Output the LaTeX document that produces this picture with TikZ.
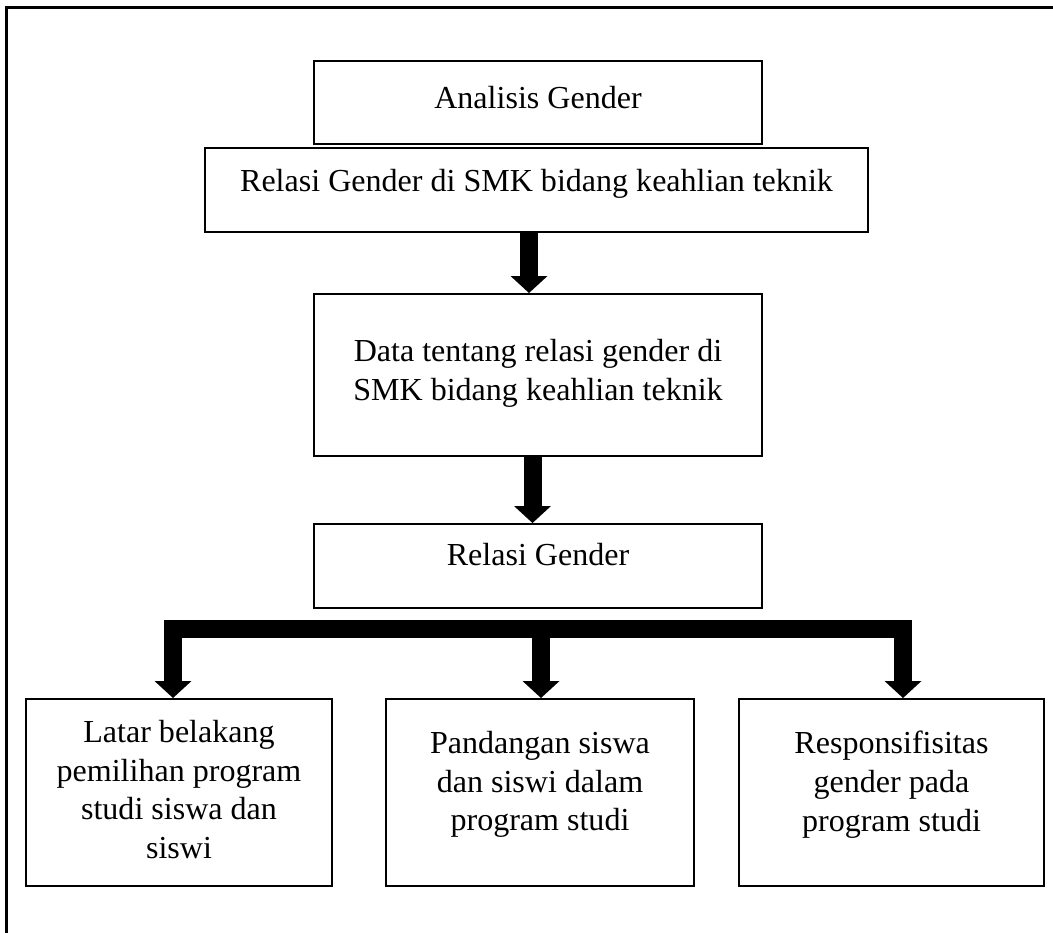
\documentclass[tikz,border=0pt]{standalone}
\usepackage{fontspec}
\setmainfont{Liberation Serif}
\usetikzlibrary{arrows.meta,calc}
\def\px{0.02cm}
\tikzset{
  ujung/.tip={Triangle[width=0.74cm,length=0.34cm,line width=0pt]},
  blk/.style={line width=0.36cm, -ujung},
  kotak/.style n args={2}{draw, line width=0.04cm, inner sep=0pt,
    minimum width=#1*\px, minimum height=#2*\px},
  teks/.style={anchor=north, inner sep=0pt, align=center,
    font=\fontsize{18.24pt}{22pt}\selectfont}
}
\begin{document}
\begin{tikzpicture}[x=0.02cm,y=-0.02cm]
        \useasboundingbox (0,0) rectangle (1053,932);
        % frame
        \draw[line width=0.05cm] (6.5,980) |- (1100,7.5);
        % boxes
        \node[kotak={448}{83}] (b1) at (538,102.5) {};
        \node[kotak={663}{84}] (b2) at (536.5,190) {};
        \node[kotak={448}{162}] (b3) at (538,375) {};
        \node[kotak={448}{84}] (b4) at (538,566) {};
        \node[kotak={306}{187}] (bA) at (179,792.5) {};
        \node[kotak={308}{187}] (bB) at (540,792.5) {};
        \node[kotak={305}{187}] (bC) at (891.5,792.5) {};
        % texts
        \node[teks] (t1) at (538,86) {Analisis Gender};
        \node[teks] (t2) at (536.5,169) {Relasi Gender di SMK bidang keahlian teknik};
        \node[teks] (t3) at (538,339) {Data tentang relasi gender di\\SMK bidang keahlian teknik};
        \node[teks] (t4) at (538,543) {Relasi Gender};
        \node[teks] (tA) at (179,720) {Latar belakang\\pemilihan program\\studi siswa dan\\siswi};
        \node[teks] (tB) at (540,731) {Pandangan siswa\\dan siswi dalam\\program studi};
        \node[teks] (tC) at (891.5,731) {Responsifisitas\\gender pada\\program studi};
        % arrows
        \draw[blk] ($(b2.south)+(-7.5,0)$) -- ($(b3.north)+(-9,0)$);
        \draw[blk] ($(b3.south)+(-5.5,0)$) -- ($(b4.north)+(-5.5,0)$);
        \coordinate (cab) at (541,628.5);
        \draw[blk, ujung-ujung] ($(bA.north)+(-6,0)$) |- (cab) -| ($(bC.north)+(11.5,0)$);
        \draw[blk] (cab) -- ($(bB.north)+(1,0)$);
\end{tikzpicture}
\end{document}
